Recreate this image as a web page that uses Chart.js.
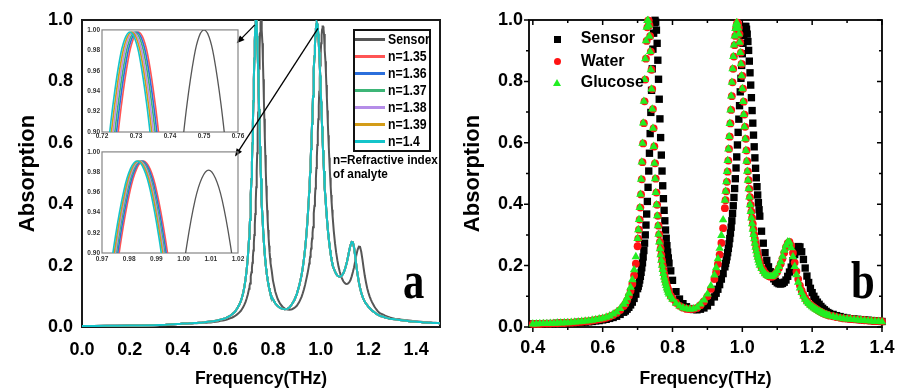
<!DOCTYPE html>
<html><head><meta charset="utf-8">
<script src="https://cdn.jsdelivr.net/npm/chart.js@4.4.1/dist/chart.umd.min.js"></script>
<style>
html,body{margin:0;padding:0;background:#fff;}
#wrap{position:relative;width:905px;height:392px;overflow:hidden;background:#fff;font-family:'Liberation Sans',Arial,sans-serif;}
#wrap canvas{position:absolute;}
.t{position:absolute;white-space:nowrap;font-weight:bold;color:#000;}
</style></head><body>
<div id="wrap">
<canvas id="cA" width="455" height="392" style="left:0;top:0;width:455px;height:392px"></canvas>
<canvas id="cI1" width="170" height="120" style="left:78px;top:24px;width:170px;height:120px"></canvas>
<canvas id="cI2" width="170" height="120" style="left:78px;top:146px;width:170px;height:120px"></canvas>
<canvas id="cB" width="450" height="392" style="left:455px;top:0;width:450px;height:392px"></canvas>
</div>
<script>
// ---------- DATA ----------
const freq = [
 0,0.05,0.1,0.15,0.2,0.25,0.3,0.35,
 0.40,0.41,0.42,0.43,0.44,0.45,0.46,0.47,0.48,0.49,0.50,0.51,0.52,0.53,0.54,0.55,0.56,0.57,0.58,0.59,0.60,0.61,0.62,0.63,0.64,0.65,
 0.66,0.665,0.67,0.675,0.68,0.685,0.69,0.695,
 0.700,0.702,0.704,0.706,0.708,0.710,0.712,0.714,0.716,0.718,0.720,0.722,0.724,0.726,0.728,0.730,0.732,0.734,0.736,0.738,0.740,0.742,0.744,0.746,0.748,0.750,0.752,0.754,0.756,0.758,0.760,0.762,0.764,0.766,0.768,0.770,0.772,0.774,0.776,0.778,0.780,0.782,0.784,0.786,0.788,0.790,
 0.795,0.80,0.81,0.82,0.83,0.84,0.85,0.86,0.87,0.88,0.89,0.90,0.91,0.92,0.925,0.93,0.935,0.94,0.945,
 0.950,0.952,0.954,0.956,0.958,0.960,0.962,0.964,0.966,0.968,0.970,0.972,0.974,0.976,0.978,0.980,0.982,0.984,0.986,0.988,0.990,0.992,0.994,0.996,0.998,1.000,1.002,1.004,1.006,1.008,1.010,1.012,1.014,1.016,1.018,1.020,1.022,1.024,1.026,1.028,1.030,1.032,1.034,1.036,1.038,1.040,1.042,1.044,1.046,1.048,1.050,
 1.055,1.06,1.065,1.07,1.075,1.08,1.085,1.09,1.095,1.10,1.105,1.11,1.115,1.12,1.125,1.13,1.135,1.14,1.145,1.15,1.155,1.16,1.165,1.17,1.175,1.18,1.185,1.19,1.195,1.20,1.205,1.21,1.215,1.22,1.225,1.23,1.235,1.24,1.245,1.25,
 1.26,1.27,1.28,1.29,1.30,1.31,1.32,1.33,1.34,1.35,1.36,1.37,1.38,1.39,1.40,1.41,1.42,1.43,1.44,1.45,1.46,1.47,1.48,1.49,1.50
];
const sensorAbs = [
 0.003,0.003,0.003,0.004,0.004,0.005,0.005,0.006,
 0.010,0.010,0.010,0.010,0.011,0.011,0.011,0.012,0.012,0.013,0.013,0.014,0.014,0.015,0.015,0.016,0.017,0.018,0.020,0.021,0.023,0.025,0.028,0.031,0.035,0.041,
 0.048,0.052,0.058,0.064,0.072,0.081,0.093,0.107,
 0.125,0.133,0.142,0.153,0.165,0.178,0.193,0.209,0.228,0.249,0.273,0.300,0.332,0.368,0.409,0.455,0.508,0.566,0.630,0.699,0.771,0.841,0.905,0.957,0.991,0.999,0.993,0.967,0.924,0.869,0.807,0.742,0.678,0.617,0.560,0.508,0.460,0.418,0.380,0.346,0.316,0.289,0.265,0.244,0.225,0.208,
 0.183,0.152,0.115,0.091,0.076,0.066,0.060,0.057,0.056,0.058,0.062,0.069,0.081,0.098,0.110,0.123,0.138,0.156,0.174,
 0.196,0.207,0.218,0.229,0.242,0.256,0.271,0.288,0.306,0.325,0.346,0.370,0.395,0.422,0.451,0.483,0.518,0.554,0.593,0.634,0.677,0.721,0.766,0.810,0.852,0.890,0.924,0.950,0.969,0.979,0.979,0.970,0.954,0.930,0.901,0.866,0.828,0.788,0.747,0.705,0.664,0.625,0.587,0.551,0.517,0.486,0.457,0.430,0.405,0.382,0.361,
 0.312,0.273,0.242,0.217,0.196,0.180,0.166,0.157,0.149,0.144,0.141,0.140,0.142,0.146,0.153,0.165,0.179,0.195,0.216,0.236,0.252,0.262,0.261,0.245,0.220,0.192,0.166,0.145,0.126,0.112,0.100,0.090,0.081,0.074,0.067,0.061,0.056,0.051,0.047,0.044,
 0.041,0.037,0.034,0.031,0.029,0.027,0.026,0.025,0.024,0.023,0.022,0.021,0.020,0.019,0.018,0.018,0.017,0.016,0.016,0.015,0.015,0.014,0.014,0.013,0.013
];
// analyte-loaded sensor (glucose; the n=1.35..1.4 curves coincide with it at full scale)
const glucoseAbs = [
 0.003,0.003,0.004,0.004,0.005,0.005,0.006,0.007,
 0.010,0.010,0.011,0.011,0.011,0.012,0.012,0.013,0.013,0.014,0.014,0.015,0.016,0.017,0.018,0.019,0.020,0.022,0.024,0.026,0.028,0.032,0.036,0.042,0.049,0.060,
 0.074,0.083,0.095,0.110,0.129,0.154,0.186,0.229,
 0.288,0.317,0.350,0.389,0.432,0.481,0.537,0.598,0.664,0.735,0.806,0.874,0.932,0.976,0.998,0.998,0.983,0.947,0.897,0.838,0.775,0.710,0.647,0.588,0.533,0.483,0.438,0.398,0.362,0.330,0.302,0.277,0.255,0.235,0.217,0.201,0.187,0.174,0.163,0.153,0.143,0.135,0.127,0.120,0.113,0.107,
 0.098,0.090,0.077,0.068,0.062,0.059,0.058,0.059,0.064,0.075,0.088,0.107,0.134,0.169,0.193,0.222,0.256,0.298,0.349,
 0.413,0.442,0.473,0.506,0.542,0.580,0.620,0.663,0.707,0.752,0.797,0.841,0.881,0.918,0.948,0.972,0.986,0.991,0.987,0.974,0.954,0.927,0.894,0.857,0.818,0.776,0.734,0.692,0.652,0.613,0.575,0.540,0.507,0.478,0.450,0.423,0.398,0.376,0.355,0.336,0.318,0.301,0.287,0.273,0.260,0.248,0.237,0.227,0.218,0.209,0.201,
 0.190,0.181,0.173,0.168,0.165,0.164,0.165,0.169,0.175,0.184,0.197,0.212,0.230,0.250,0.266,0.277,0.276,0.258,0.229,0.197,0.170,0.146,0.127,0.112,0.100,0.090,0.082,0.076,0.071,0.066,0.062,0.058,0.054,0.051,0.048,0.045,0.042,0.040,0.038,0.036,
 0.034,0.031,0.029,0.027,0.026,0.025,0.024,0.023,0.022,0.021,0.020,0.019,0.018,0.018,0.017,0.016,0.016,0.015,0.015,0.014,0.014,0.013,0.013,0.013,0.012
];
const waterAbs = [
 0.003,0.003,0.004,0.004,0.005,0.005,0.006,0.007,
 0.010,0.010,0.010,0.011,0.011,0.011,0.012,0.012,0.013,0.013,0.014,0.014,0.015,0.016,0.017,0.018,0.019,0.021,0.023,0.025,0.027,0.030,0.034,0.039,0.046,0.055,
 0.068,0.076,0.087,0.101,0.118,0.140,0.168,0.206,
 0.263,0.288,0.317,0.350,0.389,0.432,0.481,0.537,0.598,0.664,0.735,0.806,0.874,0.932,0.976,0.998,0.998,0.983,0.947,0.897,0.838,0.775,0.710,0.647,0.588,0.533,0.483,0.438,0.398,0.362,0.330,0.302,0.277,0.255,0.235,0.217,0.201,0.187,0.174,0.163,0.153,0.143,0.135,0.127,0.120,0.113,
 0.101,0.092,0.079,0.069,0.063,0.059,0.058,0.059,0.062,0.071,0.083,0.100,0.124,0.156,0.178,0.205,0.236,0.274,0.322,
 0.387,0.413,0.442,0.473,0.506,0.542,0.580,0.620,0.663,0.707,0.752,0.797,0.841,0.881,0.918,0.948,0.972,0.986,0.991,0.987,0.974,0.954,0.927,0.894,0.857,0.818,0.776,0.734,0.692,0.652,0.613,0.575,0.540,0.507,0.478,0.450,0.423,0.398,0.376,0.355,0.336,0.318,0.301,0.287,0.273,0.260,0.248,0.237,0.227,0.218,0.209,
 0.194,0.185,0.176,0.170,0.166,0.164,0.164,0.167,0.173,0.180,0.192,0.206,0.223,0.242,0.260,0.273,0.277,0.265,0.241,0.210,0.181,0.156,0.135,0.118,0.105,0.094,0.085,0.078,0.073,0.068,0.064,0.060,0.056,0.052,0.049,0.046,0.043,0.041,0.039,0.037,
 0.035,0.032,0.030,0.028,0.027,0.026,0.025,0.024,0.023,0.022,0.021,0.020,0.019,0.019,0.018,0.017,0.017,0.016,0.016,0.015,0.015,0.014,0.014,0.014,0.013
];

// refractive-index series (panel a)
const nLabels = ['n=1.35','n=1.36','n=1.37','n=1.38','n=1.39','n=1.4'];
const nColors = ['#ff5454','#2b6fdc','#3db577','#b58de8','#d39c18','#14c4ca'];
const sensorColor = '#565656';

// inset 1 (0.72-0.76 THz)
const inset1Y       = [0.867,0.926,0.971,0.991,0.998,0.991,0.971,0.926,0.867];
const inset1SensorY = [0.868,0.927,0.972,0.993,1.000,0.993,0.972,0.927,0.868];
const inset1X = [
 [0.7237,0.7257,0.7277,0.7292,0.7307,0.7322,0.7337,0.7357,0.7377],
 [0.7232,0.7252,0.7272,0.7287,0.7302,0.7317,0.7332,0.7352,0.7372],
 [0.7227,0.7247,0.7267,0.7282,0.7297,0.7312,0.7327,0.7347,0.7367],
 [0.7222,0.7242,0.7262,0.7277,0.7292,0.7307,0.7322,0.7342,0.7362],
 [0.7217,0.7237,0.7257,0.7272,0.7287,0.7302,0.7317,0.7337,0.7357],
 [0.7212,0.7232,0.7252,0.7267,0.7282,0.7297,0.7312,0.7332,0.7352]
];
const inset1SensorX = [0.7430,0.7450,0.7470,0.7485,0.7500,0.7515,0.7530,0.7550,0.7570];
// inset 2 (0.97-1.02 THz)
const inset2Y       = [0.858,0.916,0.960,0.983,0.991,0.983,0.960,0.916,0.858];
const inset2SensorY = [0.850,0.908,0.952,0.974,0.982,0.974,0.952,0.908,0.850];
const inset2X = [
 [0.9742,0.9772,0.9802,0.9827,0.9852,0.9877,0.9902,0.9932,0.9962],
 [0.9737,0.9767,0.9797,0.9822,0.9847,0.9872,0.9897,0.9927,0.9957],
 [0.9732,0.9762,0.9792,0.9817,0.9842,0.9867,0.9892,0.9922,0.9952],
 [0.9728,0.9758,0.9788,0.9813,0.9838,0.9863,0.9888,0.9918,0.9948],
 [0.9724,0.9754,0.9784,0.9809,0.9834,0.9859,0.9884,0.9914,0.9944],
 [0.9719,0.9749,0.9779,0.9804,0.9829,0.9854,0.9879,0.9909,0.9939]
];
const inset2SensorX = [0.9982,1.0012,1.0042,1.0067,1.0092,1.0117,1.0142,1.0172,1.0202];

// tick labels
const xTicksA = [0,0.2,0.4,0.6,0.8,1.0,1.2,1.4];
const yTicks  = [0,0.2,0.4,0.6,0.8,1.0];
const xTicksB = [0.4,0.6,0.8,1.0,1.2,1.4];
const xMinorB = [0.5,0.7,0.9,1.1,1.3];
const yMinorB = [0.1,0.3,0.5,0.7,0.9];
const inset1XTicks = [0.72,0.73,0.74,0.75,0.76];
const inset2XTicks = [0.97,0.98,0.99,1.00,1.01,1.02];
const insetYTicks  = [0.90,0.92,0.94,0.96,0.98,1.00];

// annotation arrows (panel a data coordinates)
const arrowsA = [
  {from:[0.724,0.984], to:[0.648,0.924]},
  {from:[0.9887,0.973], to:[0.641,0.555]}
];

// ---------- HELPERS ----------
const FONT = "'Liberation Sans', Arial, sans-serif";
Chart.defaults.font.family = FONT;
Chart.defaults.color = '#000';
const pts = (xs, ys) => xs.map((x,i)=>({x:x, y:ys[i]}));
const setTicks = arr => (s => { s.ticks = arr.map(v=>({value:v})); });

function framePlugin(cfg){
  return {
    id:'frame',
    beforeDatasetsDraw(chart){
      const {ctx, chartArea:a, scales} = chart;
      ctx.save();
      ctx.strokeStyle = cfg.color; ctx.lineWidth = cfg.width;
      ctx.strokeRect(a.left, a.top, a.right-a.left, a.bottom-a.top);
      if (cfg.ticks){
        const t = cfg.ticks, xs = scales.x, ys = scales.y;
        ctx.lineWidth = t.width;
        ctx.beginPath();
        const xm = (vals,len) => vals.forEach(v=>{
          const p = xs.getPixelForValue(v);
          ctx.moveTo(p,a.bottom); ctx.lineTo(p,a.bottom+len);
          ctx.moveTo(p,a.top); ctx.lineTo(p,a.top+len);
        });
        const ym = (vals,len) => vals.forEach(v=>{
          const p = ys.getPixelForValue(v);
          ctx.moveTo(a.left,p); ctx.lineTo(a.left-len,p);
          ctx.moveTo(a.right,p); ctx.lineTo(a.right-len,p);
        });
        xm(t.xMajor,t.major); xm(t.xMinor,t.minor);
        ym(t.yMajor,t.major); ym(t.yMinor,t.minor);
        ctx.stroke();
      }
      ctx.restore();
    }
  };
}
const arrowPlugin = {
  id:'arrows',
  afterDraw(chart){
    const {ctx, scales:{x,y}} = chart;
    arrowsA.forEach(a=>{
      const x1=x.getPixelForValue(a.from[0]), y1=y.getPixelForValue(a.from[1]);
      const x2=x.getPixelForValue(a.to[0]),   y2=y.getPixelForValue(a.to[1]);
      const ang=Math.atan2(y2-y1,x2-x1), L=8, W=3.2;
      ctx.save(); ctx.strokeStyle='#000'; ctx.fillStyle='#000'; ctx.lineWidth=1.3;
      ctx.beginPath(); ctx.moveTo(x1,y1); ctx.lineTo(x2-L*0.7*Math.cos(ang), y2-L*0.7*Math.sin(ang)); ctx.stroke();
      ctx.beginPath(); ctx.moveTo(x2,y2);
      ctx.lineTo(x2-L*Math.cos(ang)+W*Math.sin(ang), y2-L*Math.sin(ang)-W*Math.cos(ang));
      ctx.lineTo(x2-L*Math.cos(ang)-W*Math.sin(ang), y2-L*Math.sin(ang)+W*Math.cos(ang));
      ctx.closePath(); ctx.fill(); ctx.restore();
    });
  }
};
const tickFont = {family:FONT, size:18, weight:'bold'};
const titleFontX = {family:FONT, size:17.5, weight:'bold'};
const titleFontY = {family:FONT, size:22, weight:'bold'};
const baseOpts = {responsive:false, animation:false, devicePixelRatio:1, events:[],
  plugins:{legend:{display:false}, tooltip:{enabled:false}}};

// ---------- PANEL A ----------
const dsA = [{label:'Sensor', data:pts(freq,sensorAbs), showLine:true, borderColor:sensorColor, borderWidth:2, pointRadius:0, order:10}];
nLabels.forEach((l,i)=>dsA.push({label:l, data:pts(freq,glucoseAbs), showLine:true, borderColor:nColors[i], borderWidth:2, pointRadius:0, order:6-i}));
new Chart(document.getElementById('cA'), {
  type:'scatter',
  data:{datasets:dsA},
  options:{...baseOpts,
    layout:{padding:{left:0,right:15,top:20,bottom:0}},
    scales:{
      x:{type:'linear', min:0, max:1.5, afterBuildTicks:setTicks(xTicksA), afterFit:s=>{s.height=65;},
        grid:{display:false,drawTicks:false}, border:{display:false},
        ticks:{padding:12, font:tickFont, color:'#000', maxRotation:0, autoSkip:false, callback:v=>Number(v).toFixed(1)},
        title:{display:true, text:'Frequency(THz)', font:titleFontX, color:'#000', padding:{top:0,bottom:2.5}}},
      y:{type:'linear', min:0, max:1, afterBuildTicks:setTicks(yTicks), afterFit:s=>{s.width=82;},
        grid:{display:false,drawTicks:false}, border:{display:false},
        ticks:{padding:9, font:tickFont, color:'#000', autoSkip:false, callback:v=>Number(v).toFixed(1)},
        title:{display:true, text:'Absorption', font:titleFontY, color:'#000', padding:{top:15,bottom:0}}}
    }
  },
  plugins:[framePlugin({color:'#1a1a1a', width:2}), arrowPlugin]
});

// ---------- INSETS ----------
function makeInset(id, xs, xTicks, xmin, xmax, sensorX, sensorY, yArr, xh, xpad){
  const ds = [{data:pts(sensorX,sensorY), showLine:true, borderColor:sensorColor, borderWidth:1.3, pointRadius:0, tension:0.4, order:10}];
  nLabels.forEach((l,i)=>ds.push({label:l, data:pts(xs[i],yArr), showLine:true, borderColor:nColors[i], borderWidth:1.6, pointRadius:0, tension:0.4, order:6-i}));
  const f = {family:FONT, size:6.5, weight:'bold'};
  new Chart(document.getElementById(id), {
    type:'scatter', data:{datasets:ds},
    options:{...baseOpts,
      layout:{padding:{left:0,right:10,top:4,bottom:0}},
      scales:{
        x:{type:'linear', min:xmin, max:xmax, afterBuildTicks:setTicks(xTicks), afterFit:s=>{s.height=xh;},
          grid:{display:false,drawTicks:false}, border:{display:false},
          ticks:{padding:xpad, font:f, color:'#333', maxRotation:0, autoSkip:false, callback:v=>Number(v).toFixed(2)}},
        y:{type:'linear', min:0.9, max:1.0, afterBuildTicks:setTicks(insetYTicks), afterFit:s=>{s.width=24;},
          grid:{display:false,drawTicks:false}, border:{display:false},
          ticks:{padding:2, font:f, color:'#333', autoSkip:false, callback:v=>Number(v).toFixed(2)}}
      }
    },
    plugins:[framePlugin({color:'#858585', width:1.2})]
  });
}
makeInset('cI1', inset1X, inset1XTicks, 0.72, 0.76, inset1SensorX, inset1SensorY, inset1Y, 12, 0.5);
makeInset('cI2', inset2X, inset2XTicks, 0.97, 1.02, inset2SensorX, inset2SensorY, inset2Y, 13, 2.5);

// ---------- PANEL B ----------
const inB = p => p.x >= 0.4 && p.x <= 1.4;
new Chart(document.getElementById('cB'), {
  type:'scatter',
  data:{datasets:[
    {label:'Sensor',  data:pts(freq,sensorAbs).filter(inB),  pointStyle:'rect',     pointRadius:5.2, pointBackgroundColor:'#000',    pointBorderWidth:0, clip:false, order:3},
    {label:'Water',   data:pts(freq,waterAbs).filter(inB),   pointStyle:'circle',   pointRadius:3.9, pointBackgroundColor:'#ff1414', pointBorderWidth:0, clip:false, order:2},
    {label:'Glucose', data:pts(freq,glucoseAbs).filter(inB), pointStyle:'triangle', pointRadius:4.9, pointBackgroundColor:'#22ee22', pointBorderWidth:0, clip:false, order:1}
  ]},
  options:{...baseOpts,
    layout:{padding:{left:0,right:14,top:20,bottom:0}},
    scales:{
      x:{type:'linear', min:0.389, max:1.4, afterBuildTicks:setTicks(xTicksB), afterFit:s=>{s.height=65;},
        grid:{display:false,drawTicks:false}, border:{display:false},
        ticks:{padding:10.5, font:tickFont, color:'#000', maxRotation:0, autoSkip:false, callback:v=>Number(v).toFixed(1)},
        title:{display:true, text:'Frequency(THz)', font:titleFontX, color:'#000', padding:{top:0,bottom:2.5}}},
      y:{type:'linear', min:0, max:1, afterBuildTicks:setTicks(yTicks), afterFit:s=>{s.width=74;},
        grid:{display:false,drawTicks:false}, border:{display:false},
        ticks:{padding:6, font:tickFont, color:'#000', autoSkip:false, callback:v=>Number(v).toFixed(1)},
        title:{display:true, text:'Absorption', font:titleFontY, color:'#000', padding:{top:5,bottom:0}}}
    }
  },
  plugins:[framePlugin({color:'#000', width:1.8, ticks:{xMajor:xTicksB, xMinor:xMinorB, yMajor:yTicks, yMinor:yMinorB, major:5, minor:3, width:1.5}})]
});

// ---------- TEXT OVERLAYS ----------
const wrap = document.getElementById('wrap');
function add(html, css){ const d=document.createElement('div'); d.className='t'; d.innerHTML=html; d.style.cssText+=css; wrap.appendChild(d); return d; }
// legend panel a
add('', 'left:353px;top:29px;width:78px;height:123px;border:2px solid #111;box-sizing:border-box;');
const legA = [['Sensor',sensorColor]].concat(nLabels.map((l,i)=>[l,nColors[i]]));
legA.forEach((e,i)=>{
  const c = 39.3 + i*17.05;
  add('', `left:355px;top:${c-1.5}px;width:30px;height:3px;background:${e[1]};`);
  add(e[0], `left:387.5px;top:${c-8.4}px;font-size:15px;line-height:15px;transform:scaleX(0.82);transform-origin:0 50%;`);
});
add('n=Refractive index', 'left:332.7px;top:153.6px;font-size:12.5px;line-height:12.5px;transform:scaleX(0.94);transform-origin:0 50%;');
add('of analyte', 'left:333px;top:168px;font-size:12.5px;line-height:12.5px;transform:scaleX(0.94);transform-origin:0 50%;');
add('a', "left:402.5px;top:254.5px;font-family:'Liberation Serif','Times New Roman',serif;font-size:52px;line-height:52px;transform:scaleX(0.82);transform-origin:0 50%;");
add('b', "left:850.5px;top:254.5px;font-family:'Liberation Serif','Times New Roman',serif;font-size:52px;line-height:52px;transform:scaleX(0.82);transform-origin:0 50%;");
// legend panel b
const legB = [['Sensor',39.3],['Water',61.7],['Glucose',83.3]];
add('', 'left:553.6px;top:35.6px;width:7.4px;height:7.4px;background:#000;');
add('', 'left:553.5px;top:57.9px;width:7.6px;height:7.6px;border-radius:50%;background:#ff1414;');
add('', 'left:552.8px;top:78.6px;width:0;height:0;border-left:4.5px solid transparent;border-right:4.5px solid transparent;border-bottom:7.6px solid #22ee22;');
legB.forEach(e=> add(e[0], `left:580.7px;top:${e[1]-8.9}px;font-size:16px;line-height:16px;`));
</script>
</body></html>
